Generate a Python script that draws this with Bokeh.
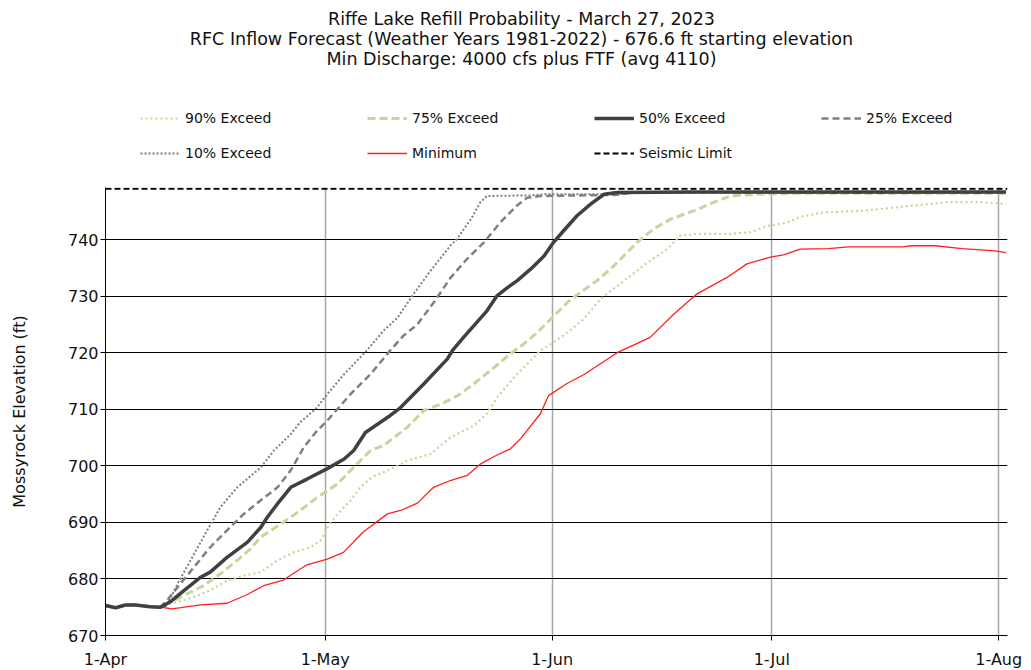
from bokeh.plotting import figure
from bokeh.models import Legend, LegendItem, FixedTicker, Range1d, Label
from bokeh.layouts import column
from bokeh.embed import file_html
from bokeh.resources import INLINE

# ---------------- data (days since 1-Apr-2023, elevation in ft) ----------------
TICK_DAYS = [0, 30, 61, 91, 122]
TICK_LABELS = ["1-Apr", "1-May", "1-Jun", "1-Jul", "1-Aug"]
Y_TICKS = [670, 680, 690, 700, 710, 720, 730, 740]

START_DAYS = [0, 1.4, 2.7, 4.1, 6.1, 7.5]
START_ELEV = [675.3, 674.9, 675.4, 675.4, 675.1, 675.0]

DAYS_90 = [8.9, 12.1, 14.3, 16.6, 18.9, 21.2, 23.5, 25.7, 28.0, 29.4, 30.3, 31.7, 33.5, 34.8,
           36.4, 38.9, 41.2, 44.4, 47.1, 50.3, 52.1, 53.5, 55.8, 57.6, 59.4, 61.2, 63.1, 65.3,
           67.6, 69.9, 74.0, 76.7, 78.5, 80.8, 85.4, 88.1, 90.4, 93.1, 94.9, 98.1, 103.6,
           110.4, 115.0, 119.5, 123.0]
ELEV_90 = [675.6, 676.8, 678.0, 679.7, 680.6, 681.2, 683.3, 684.7, 685.6, 686.8, 689.1, 691.5,
           693.9, 696.2, 698.0, 699.4, 700.9, 702.1, 705.0, 707.1, 709.2, 712.1, 715.6, 718.0,
           720.4, 721.8, 723.6, 725.9, 729.5, 731.8, 735.9, 738.3, 740.7, 741.0, 741.0, 741.3,
           742.4, 743.0, 744.0, 744.8, 745.1, 746.0, 746.6, 746.6, 746.3]

DAYS_75 = [8.9, 11.2, 13.4, 15.7, 18.0, 19.8, 21.2, 23.9, 26.6, 28.9, 31.7, 33.5, 34.8, 36.2,
           38.0, 41.2, 43.5, 45.8, 48.1, 50.3, 53.1, 55.3, 57.1, 59.0, 60.8, 63.1, 64.9, 67.1,
           69.0, 70.4, 72.6, 74.9, 77.2, 80.4, 83.1, 85.4, 88.6, 95.0, 123.0]
ELEV_75 = [675.9, 677.4, 678.8, 680.9, 683.3, 685.3, 687.4, 689.7, 692.1, 694.4, 696.8, 699.2,
           700.9, 702.7, 703.6, 706.8, 709.8, 710.9, 712.4, 714.5, 717.4, 719.8, 721.5, 723.6,
           725.9, 728.9, 730.7, 732.7, 734.8, 736.6, 739.5, 741.9, 743.6, 745.1, 746.6, 747.7,
           748.0, 748.2, 748.2]

DAYS_50 = [8.9, 10.2, 13.0, 14.3, 16.6, 19.4, 21.2, 22.1, 23.5, 25.3, 27.6, 30.3, 32.6, 33.9,
           35.5, 38.9, 40.3, 43.5, 46.7, 47.4, 48.9, 52.1, 53.5, 54.9, 56.2, 58.1, 59.9, 61.2,
           62.6, 64.4, 66.3, 68.1, 69.9, 80.0, 123.0]
ELEV_50 = [676.0, 677.4, 680.3, 681.2, 683.8, 686.5, 689.1, 690.9, 693.3, 696.2, 697.7, 699.5,
           701.2, 702.7, 705.9, 708.9, 710.3, 714.5, 718.9, 720.4, 722.7, 727.4, 730.1, 731.5,
           732.7, 734.8, 737.1, 739.5, 741.6, 744.2, 746.3, 748.0, 748.3, 748.4, 748.4]

DAYS_25 = [8.4, 10.2, 12.1, 14.3, 16.6, 18.9, 21.2, 23.5, 25.3, 27.1, 28.9, 30.3, 33.5, 36.2,
           38.9, 40.7, 42.6, 44.9, 47.1, 49.4, 51.7, 53.9, 56.2, 57.6, 59.4, 70.0, 72.0, 123.0]
ELEV_25 = [676.2, 679.1, 682.1, 685.6, 688.6, 691.5, 693.9, 696.2, 699.2, 703.3, 706.2, 708.0,
           712.7, 716.2, 720.4, 723.0, 725.0, 729.0, 733.2, 736.6, 739.5, 743.0, 746.0, 747.4,
           747.7, 747.9, 748.3, 748.3]

DAYS_10 = [8.2, 10.0, 12.1, 13.9, 15.7, 18.0, 21.2, 23.0, 25.3, 26.6, 28.9, 30.3, 32.6, 35.7,
           38.0, 39.9, 42.1, 44.4, 47.1, 48.0, 49.9, 51.2, 52.1, 58.0, 60.0, 70.0, 72.0, 123.0]
ELEV_10 = [675.0, 679.5, 684.4, 688.6, 692.7, 696.2, 699.7, 702.7, 705.6, 707.7, 710.3, 712.7,
           716.2, 720.4, 723.9, 726.2, 730.4, 734.5, 738.9, 740.1, 743.6, 746.6, 747.7, 747.8,
           748.0, 748.0, 748.3, 748.3]

DAYS_MIN = [9.1, 13.0, 16.6, 19.3, 21.6, 24.3, 27.5, 30.3, 32.5, 35.2, 38.5, 40.3, 42.6, 44.8,
            47.1, 49.4, 51.2, 53.0, 55.3, 56.7, 59.4, 60.5, 63.1, 65.3, 69.9, 74.4, 77.6, 80.8,
            84.9, 87.6, 90.8, 92.6, 94.9, 98.7, 101.5, 108.8, 110.2, 113.3, 117.0, 121.5, 123.0]
ELEV_MIN = [674.7, 675.4, 675.7, 677.2, 678.8, 679.8, 682.5, 683.5, 684.7, 688.3, 691.5, 692.1,
            693.4, 696.2, 697.4, 698.3, 700.3, 701.6, 703.0, 704.8, 709.2, 712.4, 714.6, 716.1,
            720.0, 722.7, 726.8, 730.4, 733.3, 735.7, 736.9, 737.3, 738.3, 738.4, 738.7, 738.7,
            738.9, 738.9, 738.4, 738.0, 737.7]

SEISMIC_DAYS = [0, 123.2]
SEISMIC_ELEV = [749, 749]

TITLE_LINES = ["Riffe Lake Refill Probability - March 27, 2023",
               "RFC Inflow Forecast (Weather Years 1981-2022) - 676.6 ft starting elevation",
               "Min Discharge: 4000 cfs plus FTF (avg 4110)"]

SERIES = [  # label, days, elev, color, width, dash
    ("90% Exceed", DAYS_90, ELEV_90, "#c4d79b", 2.2, "2 3"),
    ("75% Exceed", DAYS_75, ELEV_75, "#c4d79b", 3.0, "8 4"),
    ("Minimum", DAYS_MIN, ELEV_MIN, "#ff2020", 1.3, "solid"),
    ("25% Exceed", DAYS_25, ELEV_25, "#808080", 2.5, "7 4"),
    ("10% Exceed", DAYS_10, ELEV_10, "#808080", 2.0, "2 2"),
    ("50% Exceed", DAYS_50, ELEV_50, "#404040", 3.5, "solid"),
    ("Seismic Limit", SEISMIC_DAYS, SEISMIC_ELEV, "black", 2.0, "6 3"),
]
LEGEND_ORDER = ["90% Exceed", "75% Exceed", "50% Exceed", "25% Exceed",
                "10% Exceed", "Minimum", "Seismic Limit"]

FONT = "DejaVu Sans"
BORDER_L, BORDER_R = 105, 24
FRAME_W, FRAME_H = 902, 448
HEAD_H = 187


def full(days, elev):
    if days is SEISMIC_DAYS:
        return days, elev
    return START_DAYS + days, START_ELEV + elev


# ---------------- header figure: title + legend (pixel coordinates) ----------------
head = figure(frame_width=FRAME_W, frame_height=HEAD_H, output_backend="svg",
              toolbar_location=None,
              x_range=Range1d(BORDER_L, BORDER_L + FRAME_W), y_range=Range1d(HEAD_H, 0),
              x_axis_location=None, y_axis_location=None,
              min_border_left=BORDER_L, min_border_right=BORDER_R,
              min_border_top=0, min_border_bottom=0)
head.outline_line_color = None
head.xgrid.visible = False
head.ygrid.visible = False

for i, line in enumerate(TITLE_LINES):
    head.add_layout(Label(x=521, y=18 + 20.3 * i, text=line, text_align="center",
                          text_baseline="middle", text_font=FONT, text_font_size="17.5px",
                          text_color="#111111"))

# legend proxies: same data, but outside this header's visible ranges
proxies = {}
for label, days, elev, color, width, dash in SERIES:
    xs, ys = full(days, elev)
    proxies[label] = head.line(xs, ys, line_color=color, line_width=width, line_dash=dash)

legend = Legend(items=[LegendItem(label=l, renderers=[proxies[l]]) for l in LEGEND_ORDER],
                location=(35, 24), orientation="horizontal", ncols=4,
                glyph_width=40, glyph_height=20, label_height=20, label_width=167,
                label_standoff=5, spacing=15, padding=0, margin=0,
                border_line_color=None, background_fill_alpha=0,
                label_text_font=FONT, label_text_font_size="14px", label_text_color="#111111")
head.add_layout(legend, "center")

# ---------------- main chart ----------------
p = figure(frame_width=FRAME_W, frame_height=FRAME_H, output_backend="svg", toolbar_location=None,
           x_range=Range1d(0, 123.2), y_range=Range1d(670, 749.2),
           min_border_left=BORDER_L, min_border_right=BORDER_R,
           min_border_top=0, min_border_bottom=0)
p.outline_line_color = None

p.xaxis.ticker = FixedTicker(ticks=TICK_DAYS)
p.xaxis.major_label_overrides = dict(zip(TICK_DAYS, TICK_LABELS))
p.yaxis.ticker = FixedTicker(ticks=Y_TICKS)
for ax in (p.xaxis[0], p.yaxis[0]):
    ax.axis_line_color = "black"
    ax.axis_line_width = 1
    ax.major_tick_line_color = "black"
    ax.major_tick_out = 5
    ax.major_tick_in = 0
    ax.minor_tick_line_color = None
    ax.major_label_text_font = FONT
    ax.major_label_text_font_size = "16px"
    ax.major_label_text_color = "#111111"
p.xaxis.major_label_standoff = 9
p.yaxis.major_label_standoff = 2
p.yaxis.axis_label = "Mossyrock Elevation (ft)"
p.yaxis.axis_label_text_font = FONT
p.yaxis.axis_label_text_font_size = "16px"
p.yaxis.axis_label_text_font_style = "normal"
p.yaxis.axis_label_text_color = "#111111"
p.yaxis.axis_label_standoff = 36

p.xgrid.ticker = FixedTicker(ticks=TICK_DAYS)
p.xgrid.grid_line_color = "#a6a6a6"
p.xgrid.grid_line_width = 1.5
p.ygrid.ticker = FixedTicker(ticks=Y_TICKS)
p.ygrid.grid_line_color = "black"
p.ygrid.grid_line_width = 1

for label, days, elev, color, width, dash in SERIES:
    xs, ys = full(days, elev)
    p.line(xs, ys, line_color=color, line_width=width, line_dash=dash)

layout = column(head, p, spacing=0)
open("out.html", "w").write(file_html(layout, INLINE))
